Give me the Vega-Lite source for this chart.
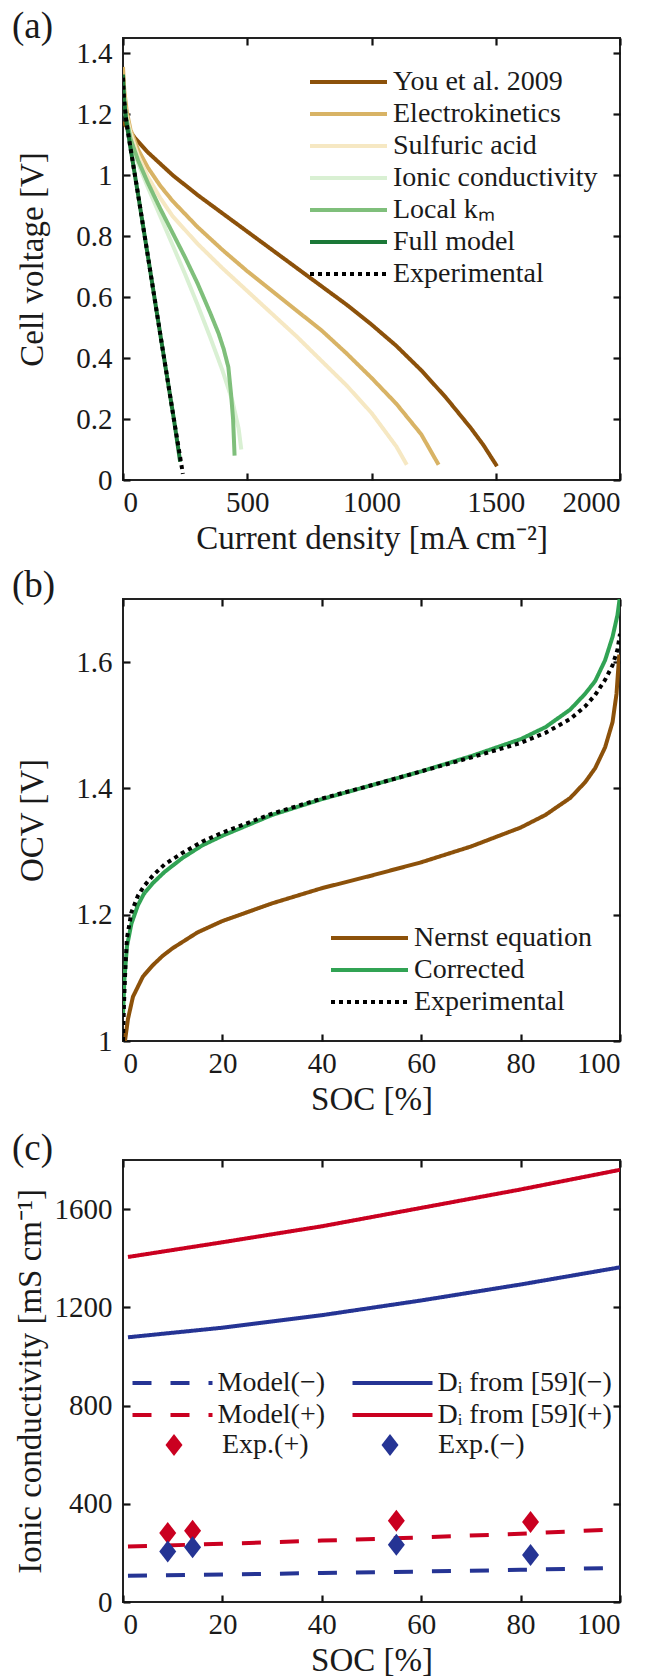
{
  "$schema": "https://vega.github.io/schema/vega-lite/v6.json",
  "padding": {"left": 11, "top": 6, "right": 0, "bottom": 0},
  "background": "white",
  "spacing": 119,
  "bounds": "flush",
  "resolve": {
    "scale": {"color": "independent", "strokeDash": "independent", "stroke": "independent", "fill": "independent", "shape": "independent"},
    "legend": {"color": "independent", "strokeDash": "independent", "stroke": "independent", "fill": "independent", "shape": "independent"}
  },
  "config": {
    "font": "Liberation Serif",
    "view": {"stroke": "#222", "strokeWidth": 2},
    "axis": {"labelFont": "Liberation Serif", "labelFontSize": 29, "labelColor": "#1a1a1a", "titleFont": "Liberation Serif", "titleFontSize": 33, "titleFontWeight": "normal", "titleColor": "#1a1a1a", "grid": false, "domain": false, "ticks": true, "tickColor": "#111111", "tickOpacity": 1, "tickWidth": 2.2, "tickSize": 7, "offset": -7, "labelPadding": 11},
    "axisX": {"labelPadding": 8, "titlePadding": 5},
    "legend": {"labelFont": "Liberation Serif", "labelFontSize": 28, "labelColor": "#1a1a1a", "padding": 0, "labelLimit": 400, "rowPadding": 2},
    "title": {"font": "Liberation Serif", "fontSize": 37, "fontWeight": "normal", "anchor": "start", "frame": "group", "color": "#1a1a1a"}
  },
  "datasets": {
    "a": [
      {"s": "You et al. 2009", "x": 0, "y": 1.175}, {"s": "You et al. 2009", "x": 50, "y": 1.12}, {"s": "You et al. 2009", "x": 100, "y": 1.075}, {"s": "You et al. 2009", "x": 200, "y": 1.0}, {"s": "You et al. 2009", "x": 300, "y": 0.935}, {"s": "You et al. 2009", "x": 400, "y": 0.875}, {"s": "You et al. 2009", "x": 500, "y": 0.815}, {"s": "You et al. 2009", "x": 600, "y": 0.755}, {"s": "You et al. 2009", "x": 700, "y": 0.695}, {"s": "You et al. 2009", "x": 800, "y": 0.635}, {"s": "You et al. 2009", "x": 900, "y": 0.575}, {"s": "You et al. 2009", "x": 1000, "y": 0.51}, {"s": "You et al. 2009", "x": 1100, "y": 0.44}, {"s": "You et al. 2009", "x": 1200, "y": 0.36}, {"s": "You et al. 2009", "x": 1300, "y": 0.27}, {"s": "You et al. 2009", "x": 1400, "y": 0.17}, {"s": "You et al. 2009", "x": 1450, "y": 0.115}, {"s": "You et al. 2009", "x": 1505, "y": 0.045},
      {"s": "Electrokinetics", "x": 0, "y": 1.355}, {"s": "Electrokinetics", "x": 5, "y": 1.28}, {"s": "Electrokinetics", "x": 15, "y": 1.21}, {"s": "Electrokinetics", "x": 30, "y": 1.15}, {"s": "Electrokinetics", "x": 60, "y": 1.085}, {"s": "Electrokinetics", "x": 100, "y": 1.025}, {"s": "Electrokinetics", "x": 150, "y": 0.965}, {"s": "Electrokinetics", "x": 200, "y": 0.915}, {"s": "Electrokinetics", "x": 300, "y": 0.83}, {"s": "Electrokinetics", "x": 400, "y": 0.755}, {"s": "Electrokinetics", "x": 500, "y": 0.685}, {"s": "Electrokinetics", "x": 600, "y": 0.62}, {"s": "Electrokinetics", "x": 700, "y": 0.555}, {"s": "Electrokinetics", "x": 800, "y": 0.49}, {"s": "Electrokinetics", "x": 900, "y": 0.415}, {"s": "Electrokinetics", "x": 1000, "y": 0.335}, {"s": "Electrokinetics", "x": 1100, "y": 0.25}, {"s": "Electrokinetics", "x": 1200, "y": 0.15}, {"s": "Electrokinetics", "x": 1270, "y": 0.05},
      {"s": "Sulfuric acid", "x": 0, "y": 1.3}, {"s": "Sulfuric acid", "x": 10, "y": 1.21}, {"s": "Sulfuric acid", "x": 30, "y": 1.14}, {"s": "Sulfuric acid", "x": 60, "y": 1.065}, {"s": "Sulfuric acid", "x": 100, "y": 0.995}, {"s": "Sulfuric acid", "x": 150, "y": 0.925}, {"s": "Sulfuric acid", "x": 200, "y": 0.865}, {"s": "Sulfuric acid", "x": 300, "y": 0.775}, {"s": "Sulfuric acid", "x": 400, "y": 0.695}, {"s": "Sulfuric acid", "x": 500, "y": 0.62}, {"s": "Sulfuric acid", "x": 600, "y": 0.545}, {"s": "Sulfuric acid", "x": 700, "y": 0.47}, {"s": "Sulfuric acid", "x": 800, "y": 0.39}, {"s": "Sulfuric acid", "x": 900, "y": 0.31}, {"s": "Sulfuric acid", "x": 1000, "y": 0.22}, {"s": "Sulfuric acid", "x": 1100, "y": 0.11}, {"s": "Sulfuric acid", "x": 1142, "y": 0.05},
      {"s": "Ionic conductivity", "x": 0, "y": 1.3}, {"s": "Ionic conductivity", "x": 10, "y": 1.2}, {"s": "Ionic conductivity", "x": 30, "y": 1.12}, {"s": "Ionic conductivity", "x": 60, "y": 1.04}, {"s": "Ionic conductivity", "x": 100, "y": 0.96}, {"s": "Ionic conductivity", "x": 150, "y": 0.865}, {"s": "Ionic conductivity", "x": 200, "y": 0.77}, {"s": "Ionic conductivity", "x": 250, "y": 0.675}, {"s": "Ionic conductivity", "x": 300, "y": 0.575}, {"s": "Ionic conductivity", "x": 350, "y": 0.47}, {"s": "Ionic conductivity", "x": 400, "y": 0.36}, {"s": "Ionic conductivity", "x": 440, "y": 0.26}, {"s": "Ionic conductivity", "x": 465, "y": 0.17}, {"s": "Ionic conductivity", "x": 476, "y": 0.1},
      {"s": "Local kₘ", "x": 0, "y": 1.3}, {"s": "Local kₘ", "x": 10, "y": 1.2}, {"s": "Local kₘ", "x": 30, "y": 1.12}, {"s": "Local kₘ", "x": 60, "y": 1.05}, {"s": "Local kₘ", "x": 100, "y": 0.975}, {"s": "Local kₘ", "x": 150, "y": 0.89}, {"s": "Local kₘ", "x": 200, "y": 0.81}, {"s": "Local kₘ", "x": 250, "y": 0.73}, {"s": "Local kₘ", "x": 300, "y": 0.645}, {"s": "Local kₘ", "x": 350, "y": 0.55}, {"s": "Local kₘ", "x": 385, "y": 0.48}, {"s": "Local kₘ", "x": 405, "y": 0.43}, {"s": "Local kₘ", "x": 424, "y": 0.37}, {"s": "Local kₘ", "x": 435, "y": 0.28}, {"s": "Local kₘ", "x": 443, "y": 0.2}, {"s": "Local kₘ", "x": 449, "y": 0.08},
      {"s": "Full model", "x": 0, "y": 1.33}, {"s": "Full model", "x": 4, "y": 1.25}, {"s": "Full model", "x": 13, "y": 1.178}, {"s": "Full model", "x": 30, "y": 1.09}, {"s": "Full model", "x": 60, "y": 0.94}, {"s": "Full model", "x": 100, "y": 0.735}, {"s": "Full model", "x": 150, "y": 0.478}, {"s": "Full model", "x": 206, "y": 0.193}, {"s": "Full model", "x": 230, "y": 0.06},
      {"s": "Experimental", "x": 0, "y": 1.32}, {"s": "Experimental", "x": 4, "y": 1.25}, {"s": "Experimental", "x": 13, "y": 1.178}, {"s": "Experimental", "x": 30, "y": 1.09}, {"s": "Experimental", "x": 60, "y": 0.94}, {"s": "Experimental", "x": 100, "y": 0.735}, {"s": "Experimental", "x": 150, "y": 0.478}, {"s": "Experimental", "x": 206, "y": 0.193}, {"s": "Experimental", "x": 241, "y": 0.02}
    ],
    "b": [
      {"s": "Nernst equation", "x": 0.4, "y": 1.0}, {"s": "Nernst equation", "x": 1, "y": 1.035}, {"s": "Nernst equation", "x": 2, "y": 1.07}, {"s": "Nernst equation", "x": 4, "y": 1.102}, {"s": "Nernst equation", "x": 6, "y": 1.12}, {"s": "Nernst equation", "x": 8, "y": 1.135}, {"s": "Nernst equation", "x": 10, "y": 1.147}, {"s": "Nernst equation", "x": 15, "y": 1.172}, {"s": "Nernst equation", "x": 20, "y": 1.19}, {"s": "Nernst equation", "x": 30, "y": 1.218}, {"s": "Nernst equation", "x": 40, "y": 1.242}, {"s": "Nernst equation", "x": 50, "y": 1.262}, {"s": "Nernst equation", "x": 60, "y": 1.283}, {"s": "Nernst equation", "x": 70, "y": 1.308}, {"s": "Nernst equation", "x": 80, "y": 1.338}, {"s": "Nernst equation", "x": 85, "y": 1.358}, {"s": "Nernst equation", "x": 90, "y": 1.385}, {"s": "Nernst equation", "x": 93, "y": 1.41}, {"s": "Nernst equation", "x": 95, "y": 1.432}, {"s": "Nernst equation", "x": 97, "y": 1.465}, {"s": "Nernst equation", "x": 98.5, "y": 1.505}, {"s": "Nernst equation", "x": 99.3, "y": 1.55}, {"s": "Nernst equation", "x": 99.85, "y": 1.612},
      {"s": "Corrected", "x": 0, "y": 1.04}, {"s": "Corrected", "x": 0.3, "y": 1.1}, {"s": "Corrected", "x": 0.8, "y": 1.15}, {"s": "Corrected", "x": 1.7, "y": 1.186}, {"s": "Corrected", "x": 3, "y": 1.215}, {"s": "Corrected", "x": 4.2, "y": 1.233}, {"s": "Corrected", "x": 6, "y": 1.25}, {"s": "Corrected", "x": 8.4, "y": 1.268}, {"s": "Corrected", "x": 12, "y": 1.29}, {"s": "Corrected", "x": 16, "y": 1.31}, {"s": "Corrected", "x": 20, "y": 1.325}, {"s": "Corrected", "x": 30, "y": 1.358}, {"s": "Corrected", "x": 40, "y": 1.383}, {"s": "Corrected", "x": 50, "y": 1.405}, {"s": "Corrected", "x": 60, "y": 1.427}, {"s": "Corrected", "x": 70, "y": 1.451}, {"s": "Corrected", "x": 80, "y": 1.478}, {"s": "Corrected", "x": 85, "y": 1.497}, {"s": "Corrected", "x": 90, "y": 1.525}, {"s": "Corrected", "x": 93, "y": 1.55}, {"s": "Corrected", "x": 95, "y": 1.57}, {"s": "Corrected", "x": 97, "y": 1.603}, {"s": "Corrected", "x": 98.5, "y": 1.64}, {"s": "Corrected", "x": 99.5, "y": 1.675}, {"s": "Corrected", "x": 100, "y": 1.705},
      {"s": "Experimental", "x": 0, "y": 1.0}, {"s": "Experimental", "x": 0.2, "y": 1.06}, {"s": "Experimental", "x": 0.5, "y": 1.12}, {"s": "Experimental", "x": 0.8, "y": 1.163}, {"s": "Experimental", "x": 1.7, "y": 1.204}, {"s": "Experimental", "x": 3, "y": 1.23}, {"s": "Experimental", "x": 4.2, "y": 1.245}, {"s": "Experimental", "x": 6, "y": 1.262}, {"s": "Experimental", "x": 8.4, "y": 1.28}, {"s": "Experimental", "x": 12, "y": 1.298}, {"s": "Experimental", "x": 16, "y": 1.316}, {"s": "Experimental", "x": 20, "y": 1.33}, {"s": "Experimental", "x": 30, "y": 1.36}, {"s": "Experimental", "x": 40, "y": 1.384}, {"s": "Experimental", "x": 50, "y": 1.405}, {"s": "Experimental", "x": 60, "y": 1.427}, {"s": "Experimental", "x": 70, "y": 1.449}, {"s": "Experimental", "x": 80, "y": 1.472}, {"s": "Experimental", "x": 85, "y": 1.488}, {"s": "Experimental", "x": 90, "y": 1.51}, {"s": "Experimental", "x": 93, "y": 1.53}, {"s": "Experimental", "x": 95, "y": 1.548}, {"s": "Experimental", "x": 97, "y": 1.572}, {"s": "Experimental", "x": 98.5, "y": 1.595}, {"s": "Experimental", "x": 99.5, "y": 1.62}, {"s": "Experimental", "x": 100, "y": 1.645}
    ],
    "c": [
      {"s": "Model(−)", "x": 1, "y": 107}, {"s": "Model(−)", "x": 20, "y": 112}, {"s": "Model(−)", "x": 40, "y": 118}, {"s": "Model(−)", "x": 60, "y": 124}, {"s": "Model(−)", "x": 80, "y": 131}, {"s": "Model(−)", "x": 100, "y": 139},
      {"s": "Dᵢ from [59](−)", "x": 1, "y": 1078}, {"s": "Dᵢ from [59](−)", "x": 20, "y": 1117}, {"s": "Dᵢ from [59](−)", "x": 40, "y": 1168}, {"s": "Dᵢ from [59](−)", "x": 60, "y": 1228}, {"s": "Dᵢ from [59](−)", "x": 80, "y": 1293}, {"s": "Dᵢ from [59](−)", "x": 100, "y": 1363},
      {"s": "Model(+)", "x": 1, "y": 226}, {"s": "Model(+)", "x": 20, "y": 237}, {"s": "Model(+)", "x": 40, "y": 250}, {"s": "Model(+)", "x": 60, "y": 263}, {"s": "Model(+)", "x": 80, "y": 278}, {"s": "Model(+)", "x": 100, "y": 297},
      {"s": "Dᵢ from [59](+)", "x": 1, "y": 1405}, {"s": "Dᵢ from [59](+)", "x": 20, "y": 1465}, {"s": "Dᵢ from [59](+)", "x": 40, "y": 1530}, {"s": "Dᵢ from [59](+)", "x": 60, "y": 1605}, {"s": "Dᵢ from [59](+)", "x": 80, "y": 1680}, {"s": "Dᵢ from [59](+)", "x": 100, "y": 1760}
    ],
    "cexp": [
      {"s": "Exp.(+)", "x": 9, "y": 281}, {"s": "Exp.(+)", "x": 14, "y": 290}, {"s": "Exp.(+)", "x": 55, "y": 331}, {"s": "Exp.(+)", "x": 82, "y": 326},
      {"s": "Exp.(−)", "x": 9, "y": 206}, {"s": "Exp.(−)", "x": 14, "y": 223}, {"s": "Exp.(−)", "x": 55, "y": 233}, {"s": "Exp.(−)", "x": 82, "y": 191}
    ]
  },
  "vconcat": [
    {
      "width": 497, "height": 442,
      "title": {"text": "(a)", "dx": -111, "offset": -38, "baseline": "alphabetic"},
      "data": {"name": "a"},
      "resolve": {"axis": {"x": "independent", "y": "independent"}},
      "layer": [
        {
          "transform": [{"filter": "datum.s !== 'Experimental'"}],
          "mark": {"type": "line", "strokeWidth": 4, "clip": true},
          "encoding": {
            "x": {"field": "x", "type": "quantitative", "scale": {"domain": [0, 2000], "nice": false}, "axis": {"values": [0, 500, 1000, 1500, 2000], "format": "d", "title": "Current density [mA cm⁻²]"}},
            "y": {"field": "y", "type": "quantitative", "scale": {"domain": [0, 1.45], "nice": false, "zero": false}, "axis": {"values": [0, 0.2, 0.4, 0.6, 0.8, 1, 1.2, 1.4], "format": "~g", "title": "Cell voltage [V]", "titlePadding": 26}},
            "color": {"field": "s", "type": "nominal", "scale": {"domain": ["You et al. 2009", "Electrokinetics", "Sulfuric acid", "Ionic conductivity", "Local kₘ", "Full model", "Experimental"], "range": ["#8c510a", "#d8b365", "#f6e8c3", "#d9f0d3", "#7fbf7b", "#1b7837", "#000000"]}, "legend": {"title": null, "orient": "none", "legendX": 185, "legendY": 29, "symbolType": "stroke", "symbolSize": 5929, "symbolStrokeWidth": 4, "labelOffset": 4, "clipHeight": 30}},
            "strokeDash": {"field": "s", "type": "nominal", "scale": {"domain": ["You et al. 2009", "Electrokinetics", "Sulfuric acid", "Ionic conductivity", "Local kₘ", "Full model", "Experimental"], "range": [[1, 0], [1, 0], [1, 0], [1, 0], [1, 0], [1, 0], [4, 4]]}}
          }
        },
        {
          "transform": [{"filter": "datum.s === 'Experimental'"}],
          "mark": {"type": "line", "strokeWidth": 4, "clip": true},
          "encoding": {
            "x": {"field": "x", "type": "quantitative", "axis": null},
            "y": {"field": "y", "type": "quantitative", "axis": null},
            "color": {"field": "s", "type": "nominal"},
            "strokeDash": {"field": "s", "type": "nominal"}
          }
        },
        {
          "mark": {"type": "line", "opacity": 0},
          "encoding": {
            "x": {"field": "x", "type": "quantitative", "axis": {"orient": "top", "labels": false, "title": null, "values": [0, 500, 1000, 1500, 2000]}},
            "y": {"field": "y", "type": "quantitative", "axis": {"orient": "right", "labels": false, "title": null, "values": [0, 0.2, 0.4, 0.6, 0.8, 1, 1.2, 1.4]}}
          }
        }
      ]
    },
    {
      "width": 497, "height": 442,
      "title": {"text": "(b)", "dx": -111, "offset": -38, "baseline": "alphabetic"},
      "data": {"name": "b"},
      "resolve": {"axis": {"x": "independent", "y": "independent"}},
      "layer": [
        {
          "transform": [{"filter": "datum.s !== 'Experimental'"}],
          "mark": {"type": "line", "strokeWidth": 4, "clip": true},
          "encoding": {
            "x": {"field": "x", "type": "quantitative", "scale": {"domain": [0, 100], "nice": false}, "axis": {"values": [0, 20, 40, 60, 80, 100], "title": "SOC [%]"}},
            "y": {"field": "y", "type": "quantitative", "scale": {"domain": [1, 1.7], "nice": false, "zero": false}, "axis": {"values": [1, 1.2, 1.4, 1.6], "format": "~g", "title": "OCV [V]", "titlePadding": 26}},
            "color": {"field": "s", "type": "nominal", "scale": {"domain": ["Nernst equation", "Corrected", "Experimental"], "range": ["#8c510a", "#31a354", "#000000"]}, "legend": {"title": null, "orient": "none", "legendX": 206, "legendY": 324, "symbolType": "stroke", "symbolSize": 5929, "symbolStrokeWidth": 4, "labelOffset": 4, "clipHeight": 30}},
            "strokeDash": {"field": "s", "type": "nominal", "scale": {"domain": ["Nernst equation", "Corrected", "Experimental"], "range": [[1, 0], [1, 0], [4, 4]]}}
          }
        },
        {
          "transform": [{"filter": "datum.s === 'Experimental'"}],
          "mark": {"type": "line", "strokeWidth": 4, "clip": true},
          "encoding": {
            "x": {"field": "x", "type": "quantitative", "axis": null},
            "y": {"field": "y", "type": "quantitative", "axis": null},
            "color": {"field": "s", "type": "nominal"},
            "strokeDash": {"field": "s", "type": "nominal"}
          }
        },
        {
          "mark": {"type": "line", "opacity": 0},
          "encoding": {
            "x": {"field": "x", "type": "quantitative", "axis": {"orient": "top", "labels": false, "title": null, "values": [0, 20, 40, 60, 80, 100]}},
            "y": {"field": "y", "type": "quantitative", "axis": {"orient": "right", "labels": false, "title": null, "values": [1, 1.2, 1.4, 1.6]}}
          }
        }
      ]
    },
    {
      "width": 497, "height": 442,
      "title": {"text": "(c)", "dx": -111, "offset": -38, "baseline": "alphabetic"},
      "resolve": {"axis": {"x": "independent", "y": "independent"}},
      "layer": [
        {
          "data": {"name": "c"},
          "mark": {"type": "line", "strokeWidth": 4, "clip": true},
          "encoding": {
            "x": {"field": "x", "type": "quantitative", "scale": {"domain": [0, 100], "nice": false}, "axis": {"values": [0, 20, 40, 60, 80, 100], "title": "SOC [%]"}},
            "y": {"field": "y", "type": "quantitative", "scale": {"domain": [0, 1800], "nice": false}, "axis": {"values": [0, 400, 800, 1200, 1600], "format": "d", "title": "Ionic conductivity [mS cm⁻¹]", "titlePadding": 7}},
            "stroke": {"field": "s", "type": "nominal", "scale": {"domain": ["Model(−)", "Model(+)", "Dᵢ from [59](−)", "Dᵢ from [59](+)"], "range": ["#253494", "#ca0020", "#253494", "#ca0020"]}, "legend": {"title": null, "orient": "none", "legendX": 7.5, "legendY": 208, "columns": 2, "columnPadding": 25, "gridAlign": "each", "symbolType": "stroke", "symbolSize": 6400, "symbolStrokeWidth": 4, "labelOffset": 3, "clipHeight": 30}},
            "strokeDash": {"field": "s", "type": "nominal", "scale": {"domain": ["Model(−)", "Model(+)", "Dᵢ from [59](−)", "Dᵢ from [59](+)"], "range": [[19, 19], [19, 19], [1, 0], [1, 0]]}}
          }
        },
        {
          "data": {"name": "cexp"},
          "mark": {"type": "point", "filled": true, "opacity": 1, "size": 400, "shape": "M0,-1.1L0.85,0L0,1.1L-0.85,0Z"},
          "encoding": {
            "x": {"field": "x", "type": "quantitative", "axis": null},
            "y": {"field": "y", "type": "quantitative", "axis": null},
            "fill": {"field": "s", "type": "nominal", "scale": {"domain": ["Exp.(+)", "Exp.(−)"], "range": ["#ca0020", "#253494"]}, "legend": {"title": null, "orient": "none", "legendX": 37, "legendY": 270, "columns": 2, "columnPadding": 67, "gridAlign": "each", "symbolType": "M0,-1.1L0.85,0L0,1.1L-0.85,0Z", "symbolSize": 400, "symbolStrokeWidth": 0, "labelOffset": 34, "clipHeight": 30}}
          }
        },
        {
          "data": {"name": "c"},
          "mark": {"type": "line", "opacity": 0},
          "encoding": {
            "x": {"field": "x", "type": "quantitative", "axis": {"orient": "top", "labels": false, "title": null, "values": [0, 20, 40, 60, 80, 100]}},
            "y": {"field": "y", "type": "quantitative", "axis": {"orient": "right", "labels": false, "title": null, "values": [0, 400, 800, 1200, 1600]}}
          }
        }
      ]
    }
  ]
}
